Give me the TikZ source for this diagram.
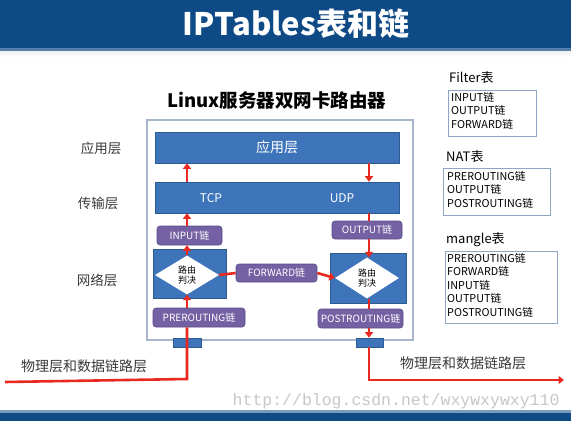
\documentclass[tikz,border=0pt]{standalone}
\usepackage{fontspec}
\setmainfont{Noto Sans CJK SC}
\newfontfamily\wmfont{Liberation Mono}
\usetikzlibrary{shapes.geometric,arrows.meta}
\definecolor{hdrblue}{HTML}{0E4A86}
\definecolor{boxblue}{HTML}{3D74BA}
\definecolor{boxedge}{HTML}{2E5A92}
\definecolor{chainpurple}{HTML}{7361A3}
\definecolor{chainedge}{HTML}{5C4D88}
\definecolor{flowred}{HTML}{E8291F}
\definecolor{frameedge}{HTML}{A7B6CC}
\definecolor{tbledge}{HTML}{8FA5C6}
\definecolor{txtgray}{HTML}{3A3A3A}
\tikzset{
  bluebox/.style={draw=boxedge, line width=0.6pt, fill=boxblue, inner sep=0pt, text=white},
  chainbox/.style={draw=chainedge, line width=0.6pt, fill=chainpurple, rounded corners=3pt, inner sep=0pt, text=white, font=\fontsize{10}{12}\selectfont},
  decide/.style={diamond, draw=none, fill=white, inner sep=0pt, text=black, align=center, font=\fontsize{9}{10.5}\selectfont},
  flow/.style={draw=flowred, line width=2.6pt},
  flowarr/.style={draw=flowred, line width=2.6pt, -{Triangle[length=5.5pt,width=8pt]}},
  layerlabel/.style={text=txtgray, font=\fontsize{13.5}{15}\selectfont},
  tblbox/.style={draw=tbledge, line width=0.7pt, inner sep=0pt, anchor=north west, text=black},
  tbltext/.style={anchor=north west, align=left, inner sep=0pt, font=\fontsize{10.8}{13.5}\selectfont, text=black},
  tbltitle/.style={anchor=west, inner sep=0pt, font=\fontsize{13}{15}\selectfont, text=black}
}
\begin{document}
\begin{tikzpicture}[x=1pt,y=-1pt]
\useasboundingbox (0,0) rectangle (571,421);
\fill[white] (0,0) rectangle (571,421);
% header
\shade[top color=black!8, bottom color=white] (0,49) rectangle (571,57);
\fill[hdrblue] (0,0) rectangle (571,48);
\fill[hdrblue!70!white] (0,48) rectangle (571,51);
\node[text=white, font=\bfseries\fontsize{31}{35}\selectfont] (title) at (296,24) {IPTables表和链};
% footer
\fill[hdrblue!55!white] (0,410) rectangle (571,413);
\fill[hdrblue] (0,413) rectangle (571,421);
\node[text=black!22, font=\wmfont\fontsize{16.5}{18}\selectfont, anchor=east] (wm) at (563,401) {http://blog.csdn.net/wxywxywxy110};

% subtitle
\node[font=\bfseries\fontsize{18.5}{21}\selectfont] (sub) at (277,100) {Linux服务器双网卡路由器};
% frame
\draw[frameedge, line width=1.4pt, fill=white] (147,120) rectangle (413,340);
\node[bluebox, font=\fontsize{14}{16}\selectfont, minimum width=244pt, minimum height=31pt] (app) at (277,147.5) {应用层};
\node[bluebox, minimum width=244pt, minimum height=31pt] (trans) at (277,197.5) {};
\node[text=white, font=\fontsize{12}{14}\selectfont] (tcp) at (211,198) {TCP};
\node[text=white, font=\fontsize{12}{14}\selectfont] (udp) at (342,198) {UDP};

\node[bluebox, minimum width=73pt, minimum height=49pt] (netL) at (189.5,273.5) {};
\node[bluebox, minimum width=76pt, minimum height=50pt] (netR) at (368,278) {};
\node[decide, minimum width=64pt, minimum height=39pt] (diaL) at (187,275) {路由\\判决};
\node[decide, minimum width=64pt, minimum height=41pt] (diaR) at (367,278) {路由\\判决};

\node[chainbox, minimum width=65pt, minimum height=19pt] (input) at (189.5,235.5) {INPUT链};
\node[chainbox, minimum width=70pt, minimum height=18pt] (output) at (367,230) {OUTPUT链};
\node[chainbox, minimum width=81pt, minimum height=18pt] (fwd) at (276.5,273) {FORWARD链};
\node[chainbox, minimum width=92pt, minimum height=19pt] (prer) at (199,317.5) {PREROUTING链};
\node[chainbox, minimum width=85pt, minimum height=19pt] (post) at (360.5,318.5) {POSTROUTING链};

\node[bluebox, minimum width=28pt, minimum height=9pt] (tabL) at (187,342.5) {};
\node[bluebox, minimum width=27pt, minimum height=9pt] (tabR) at (369.5,342.5) {};

% left flow (upward)
\coordinate (inL) at (5,382);
\coordinate (cornerL) at (187,379);
\draw[flow] (inL) -- (cornerL) -- (prer.south -| cornerL);
\draw[flowarr] (prer.north -| cornerL) -- (diaL.south);
\draw[flowarr] (diaL.north) -- (input.south -| diaL.north);
\draw[flowarr] (input.north -| diaL.north) -- (trans.south -| diaL.north);
\draw[flowarr] (trans.north -| diaL.north) -- (app.south -| diaL.north);

% right flow (downward)
\coordinate (colR) at (369,0);
\draw[flowarr] (app.south -| colR) -- (trans.north -| colR);
\draw[flow] (trans.south -| colR) -- (output.north -| colR);
\draw[flowarr] (output.south -| colR) -- (diaR.north -| colR);
\draw[flow] (diaR.south -| colR) -- (post.north -| colR);
\draw[flowarr] (post.south -| colR) -- (tabR.north -| colR);
\coordinate (cornerR) at (369,380);
\coordinate (outR) at (564,380);
\draw[flowarr] (tabR.south -| colR) -- (cornerR) -- (outR);

% forward
\draw[flow] (diaL.east) -- (fwd.west);
\draw[flowarr] (fwd.east) -- (diaR.west);

% physical layer labels
\node[layerlabel, anchor=west, inner sep=0pt, font=\fontsize{14}{16}\selectfont] (physL) at (21,366) {物理层和数据链路层};
\node[layerlabel, anchor=west, inner sep=0pt, font=\fontsize{14}{16}\selectfont] (physR) at (400,363) {物理层和数据链路层};

% layer labels
\node[layerlabel] (lapp) at (101,148) {应用层};
\node[layerlabel] (ltrans) at (98,203) {传输层};
\node[layerlabel] (lnet) at (97,280) {网络层};

% tables
\node[tbltitle] (ftitle) at (449,78) {Filter表};
\node[tblbox, minimum width=88pt, minimum height=46pt] (fbox) at (448,90) {};
\node[tbltext] (ftext) at (451,92) {INPUT链\\OUTPUT链\\FORWARD链};

\node[tbltitle] (ntitle) at (446,157) {NAT表};
\node[tblbox, minimum width=107pt, minimum height=47pt] (nbox) at (443,168) {};
\node[tbltext] (ntext) at (447,171) {PREROUTING链\\OUTPUT链\\POSTROUTING链};

\node[tbltitle] (mtitle) at (446,240) {mangle表};
\node[tblbox, minimum width=112pt, minimum height=72pt] (mbox) at (445,251) {};
\node[tbltext] (mtext) at (447,253) {PREROUTING链\\FORWARD链\\INPUT链\\OUTPUT链\\POSTROUTING链};
\end{tikzpicture}
\end{document}
